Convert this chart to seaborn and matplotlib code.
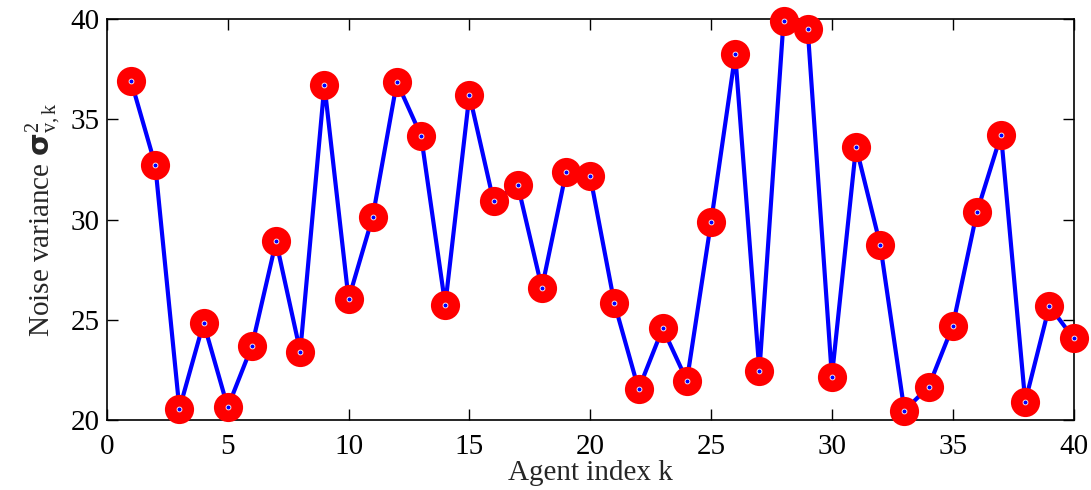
import numpy as np
import pandas as pd
import matplotlib
matplotlib.use("Agg")
import matplotlib.pyplot as plt
import seaborn as sns

# Datos
agent_k = list(range(1, 41))
noise_var = [36.91, 32.72, 20.55, 24.85, 20.63, 23.69, 28.91, 23.41, 36.71, 26.03,
             30.14, 36.86, 34.18, 25.74, 36.22, 30.91, 31.72, 26.58, 32.37, 32.15,
             25.82, 21.53, 24.57, 21.96, 29.88, 38.24, 22.44, 39.92, 39.49, 22.16,
             33.63, 28.74, 20.46, 21.65, 24.69, 30.36, 34.23, 20.91, 25.69, 24.07]
x_ticks = [0, 5, 10, 15, 20, 25, 30, 35, 40]
y_ticks = [20, 25, 30, 35, 40]

df = pd.DataFrame({"k": agent_k, "var": noise_var})

sns.set_style("ticks")
plt.rcParams["font.family"] = ["Liberation Serif", "DejaVu Serif"]
plt.rcParams["mathtext.fontset"] = "custom"
plt.rcParams["mathtext.rm"] = "Liberation Serif"
plt.rcParams["mathtext.it"] = "Liberation Serif:italic"
plt.rcParams["mathtext.bf"] = "DejaVu Sans:bold"

fig = plt.figure(figsize=(10.91, 4.9), dpi=100)
ax = fig.add_axes([0.098, 0.143, 0.886, 0.818])

sns.lineplot(data=df, x="k", y="var", color="#0000ff", linewidth=3.0, ax=ax, zorder=2)
sns.scatterplot(data=df, x="k", y="var", color="#ff0000", s=21 ** 2, linewidth=0,
                ax=ax, zorder=3, clip_on=False)
sns.scatterplot(data=df, x="k", y="var", color="#0000ff", s=3.5 ** 2, linewidth=0.6,
                edgecolor="white", ax=ax, zorder=4, clip_on=False)

ax.set_xlim(0, 40)
ax.set_ylim(20, 40)
ax.set_xticks(x_ticks)
ax.set_yticks(y_ticks)
ax.tick_params(direction="in", length=8, width=1, top=True, right=True,
               labelsize=21, pad=5, colors="black")
ax.tick_params(axis="x", pad=10)
for s in ax.spines.values():
    s.set_linewidth(1.2)
    s.set_color("black")

ax.set_xlabel("Agent index k", fontsize=21, labelpad=0)
ax.set_ylabel(r"Noise variance $\mathbf{\sigma}^{2}_{\mathrm{v,k}}$", fontsize=21, labelpad=6)

fig.savefig("out.png", dpi=100)
plt.close(fig)
